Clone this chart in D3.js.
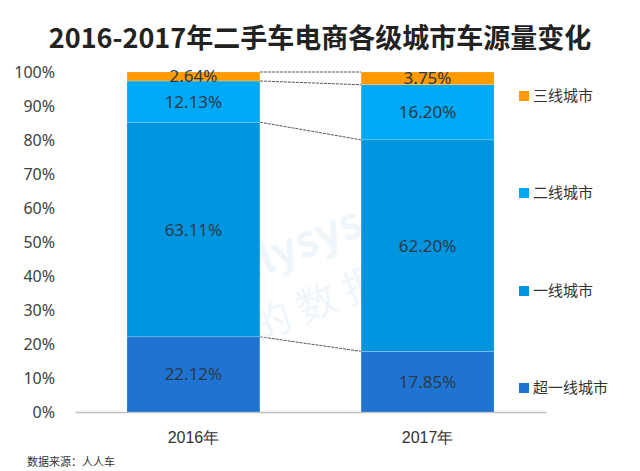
<!DOCTYPE html>
<html>
<head>
<meta charset="utf-8">
<script src="https://cdn.jsdelivr.net/npm/d3@7"></script>
<style>
  body { margin: 0; background: #fff; }
  svg { font-family: "Noto Sans CJK SC", "Noto Sans", sans-serif; }
</style>
</head>
<body>
<div id="chart"></div>
<script>
// data
const years = ["2016年", "2017年"];
const tiers = ["超一线城市", "一线城市", "二线城市", "三线城市"];
const superFirst = [22.12, 17.85];
const first = [63.11, 62.20];
const second = [12.13, 16.20];
const third = [2.64, 3.75];
const yTicks = [0, 10, 20, 30, 40, 50, 60, 70, 80, 90, 100];

const colors = ["#1f74d2", "#0095de", "#00a9f6", "#ff9a00"];

const width = 640;
const height = 471;
const margin = { top: 72, left: 75, right: 94, bottom: 59 };

const svg = d3
  .select("#chart")
  .append("svg")
  .attr("width", width)
  .attr("height", height);

// title
svg
  .append("text")
  .attr("x", 320)
  .attr("y", 48)
  .attr("text-anchor", "middle")
  .attr("font-size", 27)
  .attr("font-weight", "bold")
  .attr("fill", "#222")
  .text("2016-2017年二手车电商各级城市车源量变化");

// build stacked rows
const rows = years.map((y, i) => ({
  year: y,
  "超一线城市": superFirst[i],
  "一线城市": first[i],
  "二线城市": second[i],
  "三线城市": third[i],
}));
const stacked = d3.stack().keys(tiers)(rows);

// scales
const x = d3
  .scaleBand()
  .domain(years)
  .range([margin.left, width - margin.right])
  .paddingInner(0.432)
  .paddingOuter(0.222);

const y = d3
  .scaleLinear()
  .domain([0, 100])
  .range([height - margin.bottom, margin.top]);

// y axis
const yAxis = svg
  .append("g")
  .attr("transform", `translate(${margin.left - 17}, 0)`)
  .call(
    d3.axisLeft(y)
      .tickValues(yTicks)
      .tickSize(0)
      .tickFormat((d) => d + "%")
  );
yAxis.select(".domain").remove();
yAxis
  .selectAll("text")
  .attr("font-size", 16)
  .attr("fill", "#404040")
  .attr("font-family", "'Noto Sans', 'Noto Sans CJK SC', sans-serif");

// x axis
const xAxis = svg
  .append("g")
  .attr("transform", `translate(0, ${y(0)})`)
  .call(d3.axisBottom(x).tickSize(0).tickPadding(20));
xAxis.select(".domain").attr("stroke", "#bfbfbf").attr("stroke-width", 1.5);
xAxis
  .selectAll("text")
  .attr("font-size", 16)
  .attr("fill", "#333");

// bars
const layers = svg
  .selectAll(".layer")
  .data(stacked)
  .join("g")
  .attr("class", "layer")
  .attr("fill", (d, i) => colors[i]);

layers
  .selectAll("rect")
  .data((d) => d)
  .join("rect")
  .attr("x", (d) => x(d.data.year))
  .attr("width", x.bandwidth())
  .attr("y", (d) => y(d[1]))
  .attr("height", (d) => y(d[0]) - y(d[1]))
  .attr("stroke", "#ffffff")
  .attr("stroke-opacity", 0.35)
  .attr("stroke-width", 0.6);

// connector dashed lines between the bars
const levels = stacked.map((s) => [s[0][1], s[1][1]]);
svg
  .append("g")
  .selectAll("line")
  .data(levels)
  .join("line")
  .attr("x1", x(years[0]) + x.bandwidth())
  .attr("x2", x(years[1]))
  .attr("y1", (d) => y(d[0]))
  .attr("y2", (d) => y(d[1]))
  .attr("stroke", "#555")
  .attr("stroke-width", 1)
  .attr("stroke-dasharray", "3,1");

// faint watermark
const wm = svg
  .append("g")
  .attr("fill", "#cfe6f7")
  .attr("opacity", 0.35)
  .attr("transform", "rotate(-22, 330, 270)");
wm.append("text")
  .attr("x", 330)
  .attr("y", 250)
  .attr("text-anchor", "middle")
  .attr("font-size", 44)
  .attr("font-weight", "bold")
  .text("Analysys 易观");
wm.append("text")
  .attr("x", 330)
  .attr("y", 310)
  .attr("text-anchor", "middle")
  .attr("font-size", 40)
  .text("你 的 数 据 分 析");

// value labels
layers
  .selectAll("text")
  .data((d) => d)
  .join("text")
  .attr("x", (d) => x(d.data.year) + x.bandwidth() / 2)
  .attr("y", (d) => (y(d[0]) + y(d[1])) / 2 + 6)
  .attr("text-anchor", "middle")
  .attr("font-size", 17)
  .attr("fill", "#2b3a4a")
  .attr("font-family", "'Noto Sans', 'Noto Sans CJK SC', sans-serif")
  .text((d, i, n) => {
    const key = d3.select(n[i].parentNode).datum().key;
    return d.data[key].toFixed(2) + "%";
  });
layers.raise();

// legend
const legendY = [388, 291, 193, 96];
const legend = svg
  .append("g")
  .selectAll("g")
  .data(tiers)
  .join("g")
  .attr("transform", (d, i) => `translate(519, ${legendY[i]})`);

legend
  .append("rect")
  .attr("x", 0)
  .attr("y", -5)
  .attr("width", 10)
  .attr("height", 10)
  .attr("fill", (d, i) => colors[i]);

legend
  .append("text")
  .attr("x", 14)
  .attr("y", 5)
  .attr("font-size", 15)
  .attr("fill", "#333")
  .text((d) => d);

// source note
svg
  .append("text")
  .attr("x", 27)
  .attr("y", 466)
  .attr("font-size", 11)
  .attr("fill", "#333")
  .text("数据来源：人人车");
</script>
</body>
</html>
